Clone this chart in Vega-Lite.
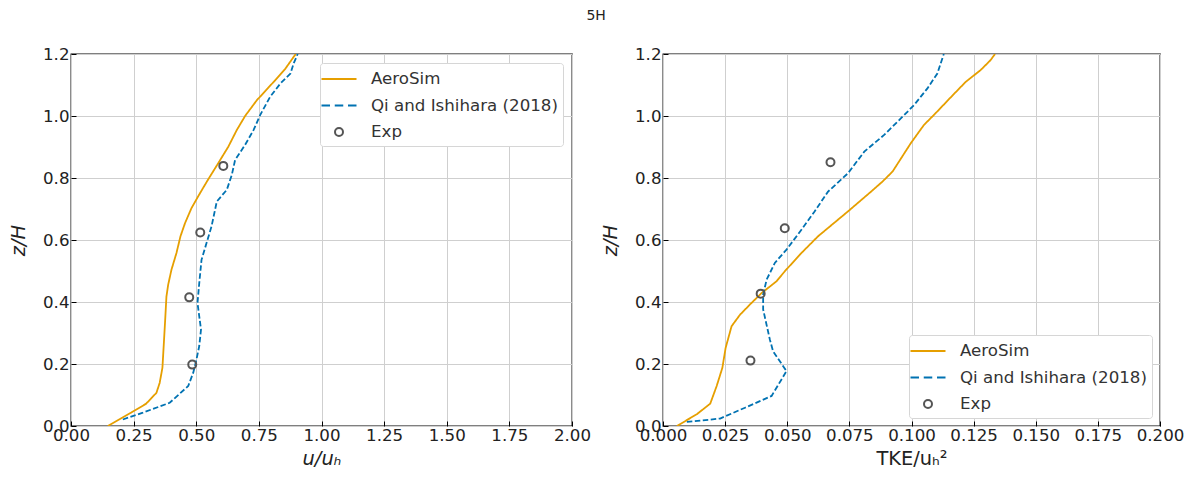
{
  "$schema": "https://vega.github.io/schema/vega-lite/v6.json",
  "background": "white",
  "padding": {"left": 7, "top": 9, "right": 5, "bottom": 5},
  "title": {"text": "5H", "fontSize": 14, "fontWeight": "normal", "font": "DejaVu Sans", "color": "#222222", "anchor": "middle", "offset": 22},
  "config": {
    "font": "DejaVu Sans",
    "view": {"stroke": "black", "strokeWidth": 1.3},
    "axis": {
      "grid": true, "gridColor": "#cfcfcf", "gridWidth": 1, "domain": false,
      "ticks": true, "tickColor": "black", "tickSize": -5, "tickWidth": 1,
      "labelFontSize": 16.67, "labelColor": "#222222",
      "labelFlush": false, "labelOverlap": false,
      "titleFontSize": 19.4, "titleFontWeight": "normal", "titleColor": "#222222", "titleFontStyle": "italic"
    },
    "axisX": {"titlePadding": 6, "labelPadding": 6},
    "axisY": {"titlePadding": 14, "labelPadding": 7},
    "legend": {
      "fillColor": "white", "strokeColor": "#d6d6d6", "cornerRadius": 3, "padding": 5,
      "labelFontSize": 16.67, "labelColor": "#333333", "labelOffset": 21, "labelLimit": 0, "rowPadding": 6.5,
      "symbolSize": 400, "symbolStrokeWidth": 2, "symbolOffset": 3, "title": null
    }
  },
  "datasets": {
    "u_lines": [
      {"series": "AeroSim", "value": 0.147, "z": 0.0},
      {"series": "AeroSim", "value": 0.24, "z": 0.043},
      {"series": "AeroSim", "value": 0.30, "z": 0.072},
      {"series": "AeroSim", "value": 0.341, "z": 0.107},
      {"series": "AeroSim", "value": 0.354, "z": 0.139},
      {"series": "AeroSim", "value": 0.365, "z": 0.188},
      {"series": "AeroSim", "value": 0.370, "z": 0.258},
      {"series": "AeroSim", "value": 0.376, "z": 0.343},
      {"series": "AeroSim", "value": 0.381, "z": 0.418},
      {"series": "AeroSim", "value": 0.388, "z": 0.456},
      {"series": "AeroSim", "value": 0.401, "z": 0.504},
      {"series": "AeroSim", "value": 0.421, "z": 0.558},
      {"series": "AeroSim", "value": 0.437, "z": 0.612},
      {"series": "AeroSim", "value": 0.455, "z": 0.654},
      {"series": "AeroSim", "value": 0.481, "z": 0.703},
      {"series": "AeroSim", "value": 0.515, "z": 0.751},
      {"series": "AeroSim", "value": 0.548, "z": 0.796},
      {"series": "AeroSim", "value": 0.588, "z": 0.848},
      {"series": "AeroSim", "value": 0.628, "z": 0.901},
      {"series": "AeroSim", "value": 0.662, "z": 0.955},
      {"series": "AeroSim", "value": 0.695, "z": 1.0},
      {"series": "AeroSim", "value": 0.742, "z": 1.051},
      {"series": "AeroSim", "value": 0.809, "z": 1.110},
      {"series": "AeroSim", "value": 0.856, "z": 1.153},
      {"series": "AeroSim", "value": 0.897, "z": 1.2},
      {"series": "Qi and Ishihara (2018)", "value": 0.207, "z": 0.021},
      {"series": "Qi and Ishihara (2018)", "value": 0.287, "z": 0.043},
      {"series": "Qi and Ishihara (2018)", "value": 0.394, "z": 0.075},
      {"series": "Qi and Ishihara (2018)", "value": 0.468, "z": 0.129},
      {"series": "Qi and Ishihara (2018)", "value": 0.488, "z": 0.172},
      {"series": "Qi and Ishihara (2018)", "value": 0.501, "z": 0.215},
      {"series": "Qi and Ishihara (2018)", "value": 0.512, "z": 0.258},
      {"series": "Qi and Ishihara (2018)", "value": 0.519, "z": 0.311},
      {"series": "Qi and Ishihara (2018)", "value": 0.512, "z": 0.354},
      {"series": "Qi and Ishihara (2018)", "value": 0.505, "z": 0.397},
      {"series": "Qi and Ishihara (2018)", "value": 0.512, "z": 0.461},
      {"series": "Qi and Ishihara (2018)", "value": 0.521, "z": 0.536},
      {"series": "Qi and Ishihara (2018)", "value": 0.541, "z": 0.590},
      {"series": "Qi and Ishihara (2018)", "value": 0.561, "z": 0.644},
      {"series": "Qi and Ishihara (2018)", "value": 0.582, "z": 0.724},
      {"series": "Qi and Ishihara (2018)", "value": 0.622, "z": 0.762},
      {"series": "Qi and Ishihara (2018)", "value": 0.642, "z": 0.810},
      {"series": "Qi and Ishihara (2018)", "value": 0.655, "z": 0.858},
      {"series": "Qi and Ishihara (2018)", "value": 0.695, "z": 0.907},
      {"series": "Qi and Ishihara (2018)", "value": 0.729, "z": 0.955},
      {"series": "Qi and Ishihara (2018)", "value": 0.755, "z": 1.003},
      {"series": "Qi and Ishihara (2018)", "value": 0.795, "z": 1.062},
      {"series": "Qi and Ishihara (2018)", "value": 0.836, "z": 1.105},
      {"series": "Qi and Ishihara (2018)", "value": 0.876, "z": 1.137},
      {"series": "Qi and Ishihara (2018)", "value": 0.889, "z": 1.170},
      {"series": "Qi and Ishihara (2018)", "value": 0.905, "z": 1.2}
    ],
    "u_exp": [
      {"series": "Exp", "value": 0.484, "z": 0.198},
      {"series": "Exp", "value": 0.472, "z": 0.415},
      {"series": "Exp", "value": 0.516, "z": 0.624},
      {"series": "Exp", "value": 0.608, "z": 0.839}
    ],
    "k_lines": [
      {"series": "AeroSim", "value": 0.0056, "z": 0.0},
      {"series": "AeroSim", "value": 0.0136, "z": 0.038},
      {"series": "AeroSim", "value": 0.019, "z": 0.072},
      {"series": "AeroSim", "value": 0.0216, "z": 0.129},
      {"series": "AeroSim", "value": 0.0239, "z": 0.188},
      {"series": "AeroSim", "value": 0.0252, "z": 0.252},
      {"series": "AeroSim", "value": 0.0276, "z": 0.322},
      {"series": "AeroSim", "value": 0.031, "z": 0.359},
      {"series": "AeroSim", "value": 0.035, "z": 0.392},
      {"series": "AeroSim", "value": 0.0397, "z": 0.429},
      {"series": "AeroSim", "value": 0.0457, "z": 0.467},
      {"series": "AeroSim", "value": 0.049, "z": 0.499},
      {"series": "AeroSim", "value": 0.0557, "z": 0.558},
      {"series": "AeroSim", "value": 0.0624, "z": 0.612},
      {"series": "AeroSim", "value": 0.0744, "z": 0.692},
      {"series": "AeroSim", "value": 0.083, "z": 0.751},
      {"series": "AeroSim", "value": 0.0884, "z": 0.789},
      {"series": "AeroSim", "value": 0.0924, "z": 0.821},
      {"series": "AeroSim", "value": 0.0997, "z": 0.912},
      {"series": "AeroSim", "value": 0.105, "z": 0.971},
      {"series": "AeroSim", "value": 0.1097, "z": 1.009},
      {"series": "AeroSim", "value": 0.116, "z": 1.062},
      {"series": "AeroSim", "value": 0.1218, "z": 1.11},
      {"series": "AeroSim", "value": 0.1278, "z": 1.148},
      {"series": "AeroSim", "value": 0.1318, "z": 1.18},
      {"series": "AeroSim", "value": 0.1336, "z": 1.2},
      {"series": "Qi and Ishihara (2018)", "value": 0.0096, "z": 0.013},
      {"series": "Qi and Ishihara (2018)", "value": 0.023, "z": 0.024},
      {"series": "Qi and Ishihara (2018)", "value": 0.033, "z": 0.059},
      {"series": "Qi and Ishihara (2018)", "value": 0.0437, "z": 0.097},
      {"series": "Qi and Ishihara (2018)", "value": 0.0497, "z": 0.177},
      {"series": "Qi and Ishihara (2018)", "value": 0.0443, "z": 0.241},
      {"series": "Qi and Ishihara (2018)", "value": 0.043, "z": 0.279},
      {"series": "Qi and Ishihara (2018)", "value": 0.0403, "z": 0.376},
      {"series": "Qi and Ishihara (2018)", "value": 0.0403, "z": 0.424},
      {"series": "Qi and Ishihara (2018)", "value": 0.0417, "z": 0.472},
      {"series": "Qi and Ishihara (2018)", "value": 0.045, "z": 0.526},
      {"series": "Qi and Ishihara (2018)", "value": 0.0497, "z": 0.569},
      {"series": "Qi and Ishihara (2018)", "value": 0.0557, "z": 0.633},
      {"series": "Qi and Ishihara (2018)", "value": 0.061, "z": 0.692},
      {"series": "Qi and Ishihara (2018)", "value": 0.0664, "z": 0.756},
      {"series": "Qi and Ishihara (2018)", "value": 0.0744, "z": 0.815},
      {"series": "Qi and Ishihara (2018)", "value": 0.081, "z": 0.885},
      {"series": "Qi and Ishihara (2018)", "value": 0.089, "z": 0.939},
      {"series": "Qi and Ishihara (2018)", "value": 0.0957, "z": 0.992},
      {"series": "Qi and Ishihara (2018)", "value": 0.101, "z": 1.035},
      {"series": "Qi and Ishihara (2018)", "value": 0.1064, "z": 1.089},
      {"series": "Qi and Ishihara (2018)", "value": 0.1104, "z": 1.137},
      {"series": "Qi and Ishihara (2018)", "value": 0.113, "z": 1.2}
    ],
    "k_exp": [
      {"series": "Exp", "value": 0.0352, "z": 0.211},
      {"series": "Exp", "value": 0.0393, "z": 0.427},
      {"series": "Exp", "value": 0.049, "z": 0.638},
      {"series": "Exp", "value": 0.0674, "z": 0.851}
    ]
  },
  "spacing": 91,
  "bounds": "flush",
  "resolve": {
    "scale": {"color": "independent", "shape": "independent", "strokeDash": "independent"},
    "legend": {"color": "independent", "shape": "independent"}
  },
  "hconcat": [
    {
      "width": 501,
      "height": 372,
      "layer": [
        {
          "data": {"name": "u_lines"},
          "mark": {"type": "line", "strokeWidth": 1.8, "clip": true},
          "encoding": {
            "x": {"field": "value", "type": "quantitative", "scale": {"domain": [0, 2], "nice": false}, "axis": {"values": [0, 0.25, 0.5, 0.75, 1, 1.25, 1.5, 1.75, 2], "format": ".2f", "title": "u/uₕ"}},
            "y": {"field": "z", "type": "quantitative", "scale": {"domain": [0, 1.2], "nice": false}, "axis": {"values": [0, 0.2, 0.4, 0.6, 0.8, 1.0, 1.2], "format": ".1f", "title": "z/H"}},
            "color": {"field": "series", "type": "nominal", "scale": {"domain": ["AeroSim", "Qi and Ishihara (2018)", "Exp"], "range": ["#E69F00", "#0072B2", "#555555"]}, "legend": {"orient": "top-right", "offset": 9}},
            "strokeDash": {"field": "series", "type": "nominal", "scale": {"domain": ["AeroSim", "Qi and Ishihara (2018)"], "range": [[1, 0], [5.5, 2.5]]}, "legend": null},
            "order": {"field": "z", "type": "quantitative"}
          }
        },
        {
          "data": {"name": "u_exp"},
          "mark": {"type": "point", "filled": false, "strokeWidth": 2, "size": 400, "opacity": 1},
          "encoding": {
            "x": {"field": "value", "type": "quantitative"},
            "y": {"field": "z", "type": "quantitative"},
            "color": {"field": "series", "type": "nominal", "legend": {"orient": "top-right", "offset": 9}},
            "shape": {"field": "series", "type": "nominal", "scale": {"domain": ["AeroSim", "Qi and Ishihara (2018)", "Exp"], "range": ["M-1.75,0H1.75", "M-1.75,0H-0.9M-0.425,0H0.425M0.9,0H1.75", "M-1.75,0M1.75,0M-0.4,0A0.4,0.4 0 1,0 0.4,0A0.4,0.4 0 1,0 -0.4,0Z"]}, "legend": {"orient": "top-right", "offset": 9}}
          }
        }
      ]
    },
    {
      "width": 497,
      "height": 372,
      "layer": [
        {
          "data": {"name": "k_lines"},
          "mark": {"type": "line", "strokeWidth": 1.8, "clip": true},
          "encoding": {
            "x": {"field": "value", "type": "quantitative", "scale": {"domain": [0, 0.2], "nice": false}, "axis": {"values": [0, 0.025, 0.05, 0.075, 0.1, 0.125, 0.15, 0.175, 0.2], "format": ".3f", "title": "TKE/uₕ²", "titleFontStyle": "normal"}},
            "y": {"field": "z", "type": "quantitative", "scale": {"domain": [0, 1.2], "nice": false}, "axis": {"values": [0, 0.2, 0.4, 0.6, 0.8, 1.0, 1.2], "format": ".1f", "title": "z/H"}},
            "color": {"field": "series", "type": "nominal", "scale": {"domain": ["AeroSim", "Qi and Ishihara (2018)", "Exp"], "range": ["#E69F00", "#0072B2", "#555555"]}, "legend": {"orient": "bottom-right", "offset": 8}},
            "strokeDash": {"field": "series", "type": "nominal", "scale": {"domain": ["AeroSim", "Qi and Ishihara (2018)"], "range": [[1, 0], [5.5, 2.5]]}, "legend": null},
            "order": {"field": "z", "type": "quantitative"}
          }
        },
        {
          "data": {"name": "k_exp"},
          "mark": {"type": "point", "filled": false, "strokeWidth": 2, "size": 400, "opacity": 1},
          "encoding": {
            "x": {"field": "value", "type": "quantitative"},
            "y": {"field": "z", "type": "quantitative"},
            "color": {"field": "series", "type": "nominal", "legend": {"orient": "bottom-right", "offset": 8}},
            "shape": {"field": "series", "type": "nominal", "scale": {"domain": ["AeroSim", "Qi and Ishihara (2018)", "Exp"], "range": ["M-1.75,0H1.75", "M-1.75,0H-0.9M-0.425,0H0.425M0.9,0H1.75", "M-1.75,0M1.75,0M-0.4,0A0.4,0.4 0 1,0 0.4,0A0.4,0.4 0 1,0 -0.4,0Z"]}, "legend": {"orient": "bottom-right", "offset": 8}}
          }
        }
      ]
    }
  ]
}
